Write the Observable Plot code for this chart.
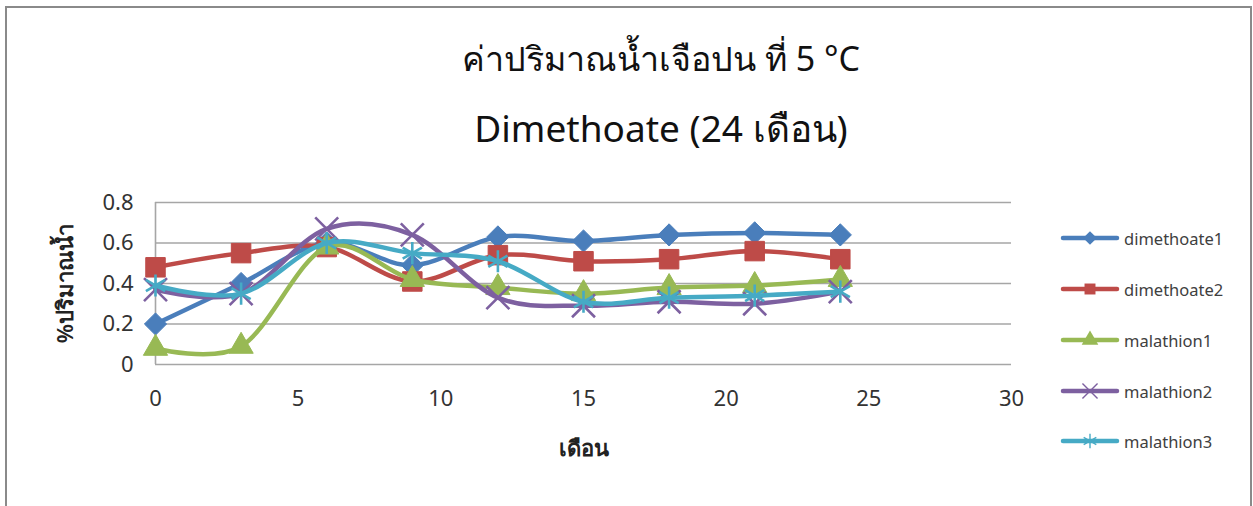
<!DOCTYPE html>
<html>
<head>
<meta charset="utf-8">
<script src="https://cdn.jsdelivr.net/npm/d3@7"></script>
<script src="https://cdn.jsdelivr.net/npm/@observablehq/plot@0.6"></script>
<style>
  body { margin: 0; background: #fff; }
  #chart { position: relative; width: 1253px; height: 506px; overflow: hidden; background: #fff; font-family: "Noto Sans", sans-serif; }
  #frame { position: absolute; left: 5px; top: 6px; width: 1247px; height: 540px; border: 2px solid #8a8a8a; box-sizing: border-box; }
  .title { position: absolute; left: 0; width: 1322px; text-align: center; line-height: 44px; color: #111; }
  #plot { position: absolute; left: 0; top: 180px; }
  #legend { position: absolute; left: 1060px; top: 0; }
  .item { position: absolute; left: 0; height: 24px; display: flex; align-items: center; white-space: nowrap; }
  .item span { font-size: 16.5px; color: #404040; margin-left: 4px; }
</style>
</head>
<body>
<div id="chart">
  <div id="frame"></div>
  <div class="title" id="title1" style="top:36px; font-size:34px"></div>
  <div class="title" id="title2" style="top:106px; font-size:37px"></div>
  <div id="plot"></div>
  <div id="legend"></div>
</div>
<script>
// Sampling months
const months = [0, 3, 6, 9, 12, 15, 18, 21, 24];

// % water content per series
const dimethoate1 = [0.20, 0.40, 0.60, 0.49, 0.63, 0.61, 0.64, 0.65, 0.64];
const dimethoate2 = [0.48, 0.55, 0.58, 0.41, 0.54, 0.51, 0.52, 0.56, 0.52];
const malathion1  = [0.08, 0.09, 0.58, 0.42, 0.38, 0.35, 0.38, 0.39, 0.42];
const malathion2  = [0.37, 0.35, 0.67, 0.64, 0.33, 0.29, 0.31, 0.30, 0.36];
const malathion3  = [0.39, 0.35, 0.60, 0.55, 0.51, 0.31, 0.33, 0.34, 0.36];

const seriesNames = ["dimethoate1", "dimethoate2", "malathion1", "malathion2", "malathion3"];
const seriesValues = [dimethoate1, dimethoate2, malathion1, malathion2, malathion3];

const xTicks = [0, 5, 10, 15, 20, 25, 30];
const yTicks = [0, 0.2, 0.4, 0.6, 0.8];

const titleLine1 = "ค่าปริมาณน้ำเจือปน ที่ 5 °C";
const titleLine2 = "Dimethoate (24 เดือน)";
const xLabel = "เดือน";
const yLabel = "%ปริมาณน้ำ";

document.getElementById("title1").textContent = titleLine1;
document.getElementById("title2").textContent = titleLine2;

// Styling per series
const colors = ["#4a7ebb", "#be4b48", "#98b954", "#7d60a0", "#46aac5"];
const symbols = ["diamond2", "square", "triangle", "times", "asterisk"];
const radii = [10, 11, 9, 10.5, 10.5];
const strokeSymbols = new Set(["times", "asterisk"]);

const rows = seriesNames.flatMap((name, i) =>
  months.map((m, j) => ({series: name, month: m, value: seriesValues[i][j]}))
);

const seriesMarks = seriesNames.flatMap((name, i) => {
  const data = rows.filter(d => d.series === name);
  const isStroke = strokeSymbols.has(symbols[i]);
  return [
    Plot.line(data, {x: "month", y: "value", stroke: colors[i], strokeWidth: 4.5, curve: "cardinal", tension: 0}),
    Plot.dot(data, {
      x: "month", y: "value", symbol: symbols[i], r: radii[i],
      fill: isStroke ? "none" : colors[i],
      stroke: colors[i],
      strokeWidth: isStroke ? 2.6 : 1
    })
  ];
});

const chart = Plot.plot({
  width: 1040,
  height: 300,
  marginLeft: 155,
  marginRight: 29,
  marginTop: 22,
  marginBottom: 116,
  style: {fontFamily: "'Noto Sans', sans-serif", fontSize: "22px", color: "#333", background: "transparent", overflow: "visible"},
  x: {domain: [0, 30]},
  y: {domain: [0, 0.8]},
  marks: [
    Plot.ruleY(yTicks, {stroke: "#a6a6a6", strokeWidth: 1.6}),
    Plot.ruleX([0], {y1: 0, y2: 0.8, stroke: "#a6a6a6", strokeWidth: 1.6}),
    Plot.axisX({ticks: xTicks, tickSize: 0, tickPadding: 26, label: null, tickFormat: d => String(d)}),
    Plot.axisY({ticks: yTicks, tickSize: 0, tickPadding: 22, label: null, tickFormat: d => String(d)}),
    Plot.text([xLabel], {text: d => d, frameAnchor: "bottom", lineAnchor: "middle", textAnchor: "middle", dy: 84, fontSize: 22, fontWeight: 600, fill: "#222"}),
    Plot.text([yLabel], {text: d => d, frameAnchor: "left", lineAnchor: "middle", textAnchor: "middle", dx: -90, rotate: -90, fontSize: 22, fontWeight: 600, fill: "#222"}),
    ...seriesMarks
  ]
});
document.getElementById("plot").append(chart);

// Legend: line sample with marker, then series name
const symbolTypes = {
  diamond2: d3.symbolDiamond2, square: d3.symbolSquare, triangle: d3.symbolTriangle,
  times: d3.symbolTimes, asterisk: d3.symbolAsterisk
};
const legendY = [238, 289, 340, 391, 441];
const legend = d3.select("#legend");
seriesNames.forEach((name, i) => {
  const item = legend.append("div").attr("class", "item").style("top", (legendY[i] - 12) + "px");
  const svg = item.append("svg").attr("width", 60).attr("height", 24);
  svg.append("line").attr("x1", 3).attr("x2", 57).attr("y1", 12).attr("y2", 12)
    .attr("stroke", colors[i]).attr("stroke-width", 4.5).attr("stroke-linecap", "round");
  const isStroke = strokeSymbols.has(symbols[i]);
  svg.append("path")
    .attr("transform", "translate(30,12)")
    .attr("d", d3.symbol(symbolTypes[symbols[i]], isStroke ? 150 : 120)())
    .attr("fill", isStroke ? "none" : colors[i])
    .attr("stroke", isStroke ? colors[i] : "none")
    .attr("stroke-width", 1.4);
  item.append("span").text(name);
});
</script>
</body>
</html>
